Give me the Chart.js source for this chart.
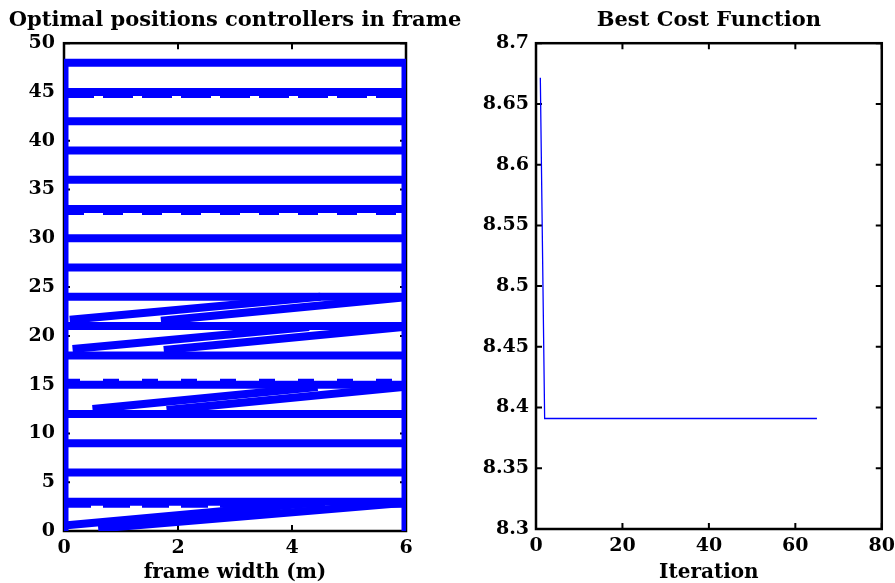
<!DOCTYPE html>
<html>
<head>
  <meta charset="utf-8">
  <script src="https://cdn.jsdelivr.net/npm/chart.js"></script>
  <style>
    body { margin: 0; background: #fff; }
    #wrap { position: relative; width: 895px; height: 583px; overflow: hidden; }
    canvas { position: absolute; top: 0; }
    #frameChart { left: 0; }
    #costChart { left: 447px; }
  </style>
</head>
<body>
<div id="wrap">
  <canvas id="frameChart" width="470" height="583"></canvas>
  <canvas id="costChart" width="454" height="583"></canvas>
</div>
<script>
    // frame: floor levels (m) and frame width
    const floorLevels = [3, 6, 9, 12, 15, 18, 21, 24, 27, 30, 33, 36, 39, 42, 45, 48];
    const frameEnds = [0, 6];
    const columnX = [0, 6];
    const columnEnds = [0, 48];

    // controllers (diagonals) start / end points [x, y]
    const braceStart = [[0, 0.55], [0.6, 0.25], [0.5, 12.5], [1.8, 12.4], [0.15, 18.65], [1.75, 18.55], [0.1, 21.65], [1.7, 21.55]];
    const braceEnd   = [[4.5, 2.95], [6, 2.9], [4.45, 14.75], [6, 14.8], [4.3, 20.9], [6, 20.95], [4.5, 24.0], [6, 23.95]];

    // dashed floor lines that sit over some floors
    const dashedLevels = [2.75, 15.25, 32.75, 44.75];

    // best cost per iteration
    const bestCost = [8.6715, 8.391, 8.391, 8.391, 8.391, 8.391, 8.391, 8.391, 8.391, 8.391,
                      8.391, 8.391, 8.391, 8.391, 8.391, 8.391, 8.391, 8.391, 8.391, 8.391,
                      8.391, 8.391, 8.391, 8.391, 8.391, 8.391, 8.391, 8.391, 8.391, 8.391,
                      8.391, 8.391, 8.391, 8.391, 8.391, 8.391, 8.391, 8.391, 8.391, 8.391,
                      8.391, 8.391, 8.391, 8.391, 8.391, 8.391, 8.391, 8.391, 8.391, 8.391,
                      8.391, 8.391, 8.391, 8.391, 8.391, 8.391, 8.391, 8.391, 8.391, 8.391,
                      8.391, 8.391, 8.391, 8.391, 8.391];
    const iterations = bestCost.map((_, i) => i + 1);

    const BLUE = '#0000ff';

    Chart.defaults.font.family = "'DejaVu Serif', serif";
    Chart.defaults.font.weight = 'bold';
    Chart.defaults.font.size = 19;
    Chart.defaults.color = '#000';

    // matlab-like box with inward ticks
    const boxPlugin = {
        id: 'box',
        beforeDatasetsDraw(chart) {
            const { ctx, chartArea: a, scales } = chart;
            const len = 6;
            ctx.save();
            ctx.strokeStyle = '#000';
            ctx.lineWidth = 2.5;
            ctx.strokeRect(a.left, a.top, a.right - a.left, a.bottom - a.top);
            ctx.lineWidth = 2;
            ctx.beginPath();
            scales.x.ticks.forEach(t => {
                const px = scales.x.getPixelForValue(t.value);
                ctx.moveTo(px, a.bottom); ctx.lineTo(px, a.bottom - len);
                ctx.moveTo(px, a.top); ctx.lineTo(px, a.top + len);
            });
            scales.y.ticks.forEach(t => {
                const py = scales.y.getPixelForValue(t.value);
                ctx.moveTo(a.left, py); ctx.lineTo(a.left + len, py);
                ctx.moveTo(a.right, py); ctx.lineTo(a.right - len, py);
            });
            ctx.stroke();
            ctx.restore();
        }
    };

    function seg(points, width, dash) {
        return {
            data: points,
            borderColor: BLUE,
            borderWidth: width,
            borderDash: dash || [],
            pointRadius: 0,
            tension: 0,
            fill: false
        };
    }

    const frameSets = [];
    floorLevels.forEach(y => frameSets.push(seg(frameEnds.map(x => ({ x, y })), 8)));
    const dashes = [[27, 12], [16, 23], [20, 19], [30, 9]];
    dashedLevels.forEach((y, i) => frameSets.push(seg(frameEnds.map(x => ({ x, y })), 7, dashes[i])));
    braceStart.forEach((s, i) => frameSets.push(seg([{ x: s[0], y: s[1] }, { x: braceEnd[i][0], y: braceEnd[i][1] }], 8)));
    columnX.forEach(x => frameSets.push(seg(columnEnds.map(y => ({ x, y })), 9)));

    new Chart(document.getElementById('frameChart'), {
        type: 'line',
        data: { datasets: frameSets },
        plugins: [boxPlugin],
        options: {
            responsive: false,
            animation: false,
            layout: { padding: 0 },
            plugins: {
                legend: { display: false },
                tooltip: { enabled: false },
                title: {
                    display: true,
                    text: 'Optimal positions controllers in frame',
                    fullSize: true,
                    color: '#000',
                    font: { size: 21, weight: 'bold' },
                    padding: { top: 8, bottom: 10 }
                }
            },
            scales: {
                x: {
                    type: 'linear', min: 0, max: 6,
                    grid: { display: false, drawTicks: false },
                    border: { display: false },
                    ticks: { stepSize: 2, padding: 6, maxRotation: 0, autoSkip: false },
                    title: { display: true, text: 'frame width (m)', font: { size: 20, lineHeight: 1.0 }, padding: 0 },
                    afterFit(s) { s.height = 52; }
                },
                y: {
                    min: 0, max: 50,
                    grid: { display: false, drawTicks: false },
                    border: { display: false },
                    ticks: { stepSize: 5, padding: 9, autoSkip: false },
                    afterFit(s) { s.width = 64; }
                },
                // empty right-hand box, keeps the title centred over the axes
                yRight: {
                    position: 'right', min: 0, max: 50,
                    grid: { display: false, drawTicks: false },
                    border: { display: false },
                    ticks: { display: false },
                    afterFit(s) { s.width = 64; }
                }
            }
        }
    });

    new Chart(document.getElementById('costChart'), {
        type: 'line',
        data: {
            datasets: [{
                data: iterations.map((x, i) => ({ x, y: bestCost[i] })),
                borderColor: BLUE,
                borderWidth: 1.3,
                pointRadius: 0,
                tension: 0,
                fill: false
            }]
        },
        plugins: [boxPlugin],
        options: {
            responsive: false,
            animation: false,
            layout: { padding: 0 },
            plugins: {
                legend: { display: false },
                tooltip: { enabled: false },
                title: {
                    display: true,
                    text: 'Best Cost Function',
                    fullSize: false,
                    color: '#000',
                    font: { size: 21, weight: 'bold' },
                    padding: { top: 8, bottom: 10 }
                }
            },
            scales: {
                x: {
                    type: 'linear', min: 0, max: 80,
                    grid: { display: false, drawTicks: false },
                    border: { display: false },
                    ticks: { stepSize: 20, padding: 6, maxRotation: 0, autoSkip: false },
                    title: { display: true, text: 'Iteration', font: { size: 20, lineHeight: 1.0 }, padding: 0 },
                    afterFit(s) { s.height = 54; }
                },
                y: {
                    min: 8.3, max: 8.7,
                    grid: { display: false, drawTicks: false },
                    border: { display: false },
                    ticks: {
                        stepSize: 0.05, padding: 7, autoSkip: false,
                        callback: v => String(Number(v.toFixed(2)))
                    },
                    afterFit(s) { s.width = 89; }
                }
            }
        }
    });
</script>
</body>
</html>
